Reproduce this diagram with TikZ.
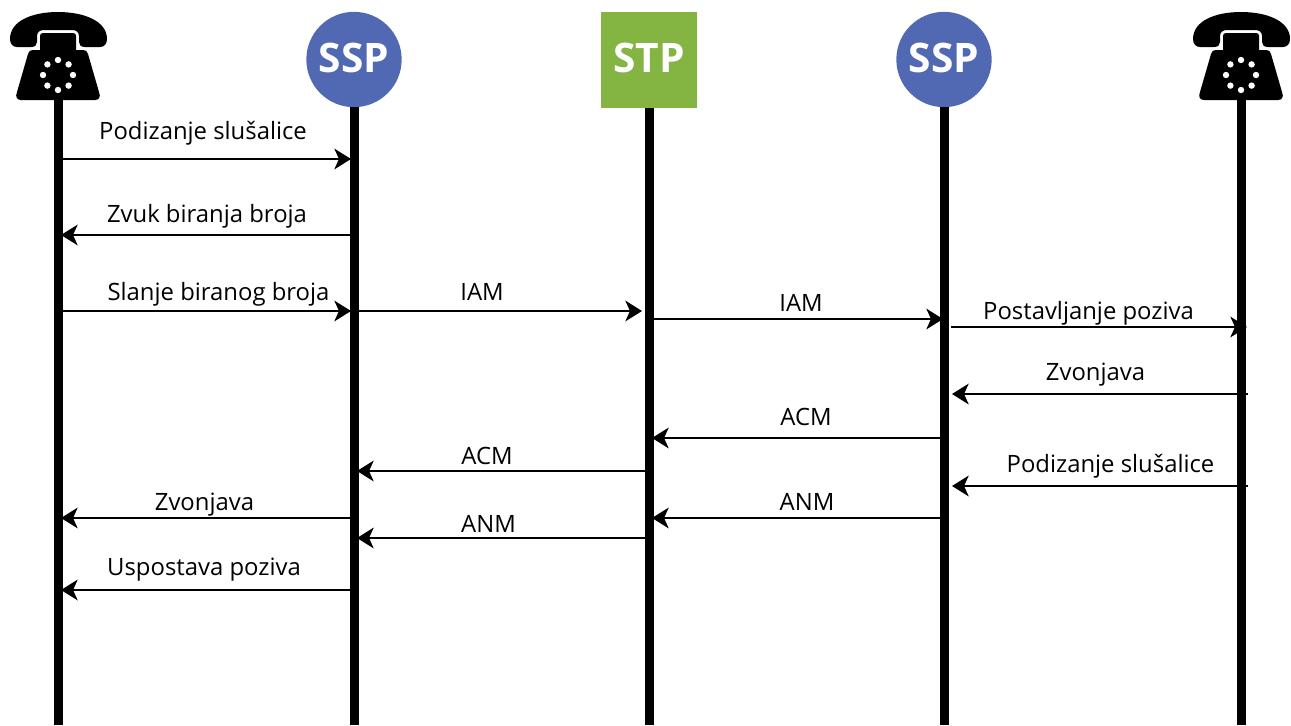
\documentclass[tikz,border=0pt]{standalone}
\usepackage{fontspec}
\setmainfont{Open Sans}
\usetikzlibrary{arrows.meta}
\definecolor{sspblue}{HTML}{5069B2}
\definecolor{stpgreen}{HTML}{84B441}
\tikzset{
  x=0.75pt,y=-0.75pt,
  lifeline/.style={line width=6.75pt,black},
  msg/.style={line width=1.6pt,black,-{Stealth[length=12.5pt,width=15.5pt,inset=3.5pt]}},
  lbl/.style={font=\fontsize{17.9pt}{20pt}\selectfont,inner sep=0pt,anchor=base,text=black},
  hd/.style={font=\bfseries\fontsize{30.5pt}{32pt}\selectfont,text=white,inner sep=0pt,anchor=base},
  phone/.pic={
    % handset
    \fill[black] (-48,-12) .. controls (-48,-30) and (-26,-39) .. (0,-39)
      .. controls (26,-39) and (49,-30) .. (49,-12)
      .. controls (49,-7) and (46,-4) .. (42,-4) -- (27,-4)
      .. controls (23,-4) and (21,-6) .. (21,-9) -- (21,-15)
      .. controls (21,-19) and (18,-21) .. (14,-21) -- (-14,-21)
      .. controls (-18,-21) and (-21,-19) .. (-21,-15) -- (-21,-9)
      .. controls (-21,-6) and (-23,-4) .. (-27,-4) -- (-41,-4)
      .. controls (-45,-4) and (-48,-7) .. (-48,-12) -- cycle;
    % neck and body
    \fill[black] (-18,-15) .. controls (-18,-17) and (-17,-18) .. (-15,-18) -- (15,-18)
      .. controls (17,-18) and (18,-17) .. (18,-15) -- (18,-1) -- (25,-1)
      .. controls (28,-1) and (29,0) .. (30,3)
      -- (41,41) .. controls (43,46) and (41,49) .. (37,49)
      -- (-37,49) .. controls (-41,49) and (-43,46) .. (-41,41)
      -- (-30,3) .. controls (-29,0) and (-28,-1) .. (-25,-1) -- (-18,-1) -- cycle;
    % dial
    \foreach \a in {0,45,...,315}
      \fill[white] ([shift={(\a:15)}]0,24) circle[radius=3.2];
  }
}
\begin{document}
\begin{tikzpicture}
\useasboundingbox (0,0) rectangle (1291,725);

% lifeline ends
\coordinate (e1) at (58,725);
\coordinate (e2) at (354,725);
\coordinate (e3) at (649,725);
\coordinate (e4) at (944,725);
\coordinate (e5) at (1241,725);
\coordinate (p1) at (58,51);
\coordinate (p5) at (1241,51);

\draw[lifeline] (p1) ++(0,45) coordinate (t1) -- (e1);
\draw[lifeline] (p5) ++(0,45) coordinate (t5) -- (e5);

\node[circle,fill=sspblue,minimum size=71.5pt,inner sep=0pt] (ssp1) at (354,59.5) {};
\node[hd] (ssp1t) at (354,72) {SSP};
\node[circle,fill=sspblue,minimum size=71.5pt,inner sep=0pt] (ssp2) at (944,59.5) {};
\node[hd] (ssp2t) at (944,72) {SSP};
\node[rectangle,fill=stpgreen,minimum size=71.5pt,inner sep=0pt] (stp) at (649,60) {};
\node[hd] (stpt) at (649,72) {STP};

\draw[lifeline] (ssp1) -- (e2);
\draw[lifeline] (stp) -- (e3);
\draw[lifeline] (ssp2) -- (e4);

\pic at (p1) {phone};
\pic at (p5) {phone};

% messages
\coordinate (a1s) at (62,159);   \coordinate (a1e) at (351,159);
\coordinate (a2s) at (350,235);  \coordinate (a2e) at (61,235);
\coordinate (a3s) at (62,311);   \coordinate (a3e) at (351,311);
\coordinate (a4s) at (358,311);  \coordinate (a4e) at (642,311);
\coordinate (a5s) at (653,319);  \coordinate (a5e) at (943,319);
\coordinate (a6s) at (951,327);  \coordinate (a6e) at (1247,327);
\coordinate (a7s) at (1248,394); \coordinate (a7e) at (952,394);
\coordinate (a8s) at (944,438);  \coordinate (a8e) at (652,438);
\coordinate (a9s) at (649,471);  \coordinate (a9e) at (357,471);
\coordinate (a10s) at (1248,486);\coordinate (a10e) at (952,486);
\coordinate (a11s) at (944,518); \coordinate (a11e) at (652,518);
\coordinate (a12s) at (649,538); \coordinate (a12e) at (357,538);
\coordinate (a13s) at (350,518); \coordinate (a13e) at (61,518);
\coordinate (a14s) at (350,590); \coordinate (a14e) at (61,590);

\foreach \i in {1,...,14} \draw[msg] (a\i s) -- (a\i e);

\node[lbl] (l1) at (203,139) {Podizanje slušalice};
\node[lbl] (l2) at (207,222) {Zvuk biranja broja};
\node[lbl] (l3) at (218.5,300) {Slanje biranog broja};
\node[lbl] (l4) at (482,300) {IAM};
\node[lbl] (l5) at (801,311) {IAM};
\node[lbl] (l6) at (1088.5,319) {Postavljanje poziva};
\node[lbl] (l7) at (1095.5,380) {Zvonjava};
\node[lbl] (l8) at (806,425) {ACM};
\node[lbl] (l9) at (487,464) {ACM};
\node[lbl] (l10) at (1110.5,472) {Podizanje slušalice};
\node[lbl] (l11) at (807,510) {ANM};
\node[lbl] (l12) at (488.5,532) {ANM};
\node[lbl] (l13) at (204.5,510) {Zvonjava};
\node[lbl] (l14) at (204,575) {Uspostava poziva};
\end{tikzpicture}
\end{document}
